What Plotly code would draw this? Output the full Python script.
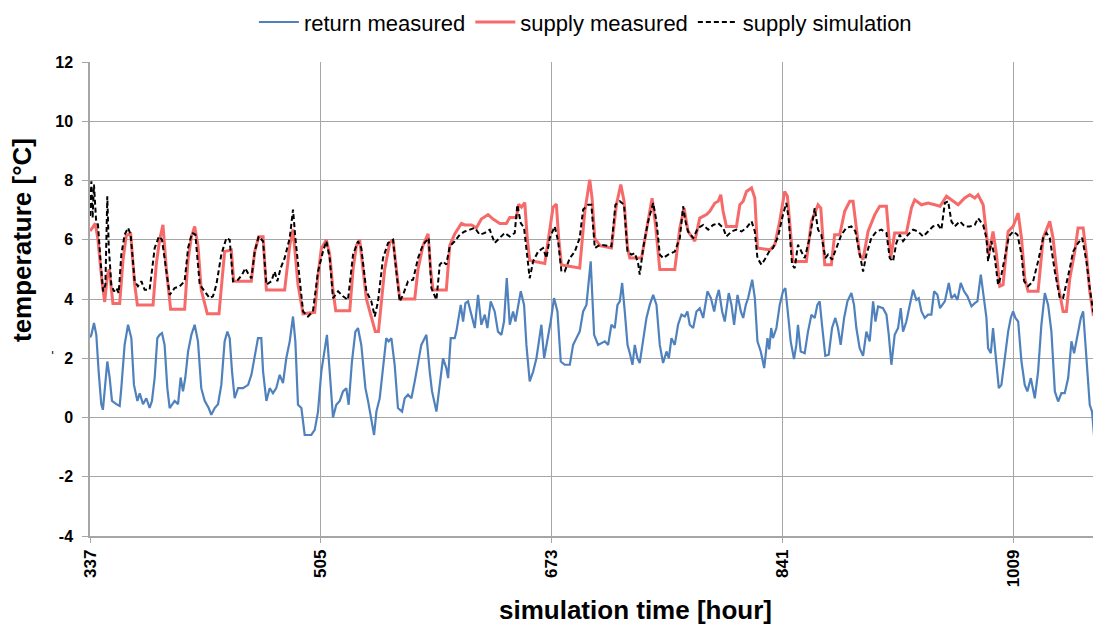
import plotly.graph_objects as go

# ---------------- data ----------------
# hours and temperatures [°C]
return_hours = [337, 338, 339.9, 341.6, 343.3, 345.2, 346.4, 348.2, 349.6, 351.3, 353, 356.2, 358.6, 359.8,
                362.2, 364.7, 367.1, 369, 371.5, 373.2, 375.6, 378, 380.4, 382.1, 384.1, 386, 387.7, 389.4,
                391.3, 393.3, 395, 398.6, 401.1, 403, 404.7, 406.4, 408.4, 410.8, 413.2, 415.6, 418, 420.5,
                423.4, 425.3, 427.8, 430.2, 432.6, 435, 437, 438.7, 440.4, 442.3, 444.8, 448.4, 452.1, 454.5,
                456.9, 459.3,
                461.7, 463, 465.4, 467.8, 470.2, 472.6, 475.1, 477.5, 479.9, 482.4, 484.8, 486.5, 488.4, 490.9,
                493.3, 498.1, 500.6, 503, 505.4, 507.8, 509.5, 511.5, 513.9, 516.3, 518.8, 521.2, 523.6, 525.3,
                527.7, 530.2, 532.1, 534.5, 537.5, 539.4, 541.8, 543.8, 545.5, 547.9, 550.3, 552.7, 554.4, 556.4,
                558.8, 561.2, 564.2, 566.1, 568.5, 571, 573.4, 575.8, 578.2, 580.7, 581.9,
                584.3, 586, 589.2, 591.6, 594, 596.4, 597.7, 599.6, 602.5, 603.7, 605.4, 606.9, 608.6, 610.3,
                612.2, 614.7, 617.1, 619.5, 621.9, 624.4, 626.3, 628.7, 631.6, 634, 636.5, 638.4, 640.4, 642.6,
                645, 646.7, 648.6, 650.6, 653, 654.7, 657.1, 659.6, 662, 664.4, 665.6, 667.6, 670, 672.4, 674.8,
                677.3, 679.7, 682.6, 686.3, 688.7, 691.1, 693.5, 696, 698.4, 701.5, 704, 706.9,
                709.3, 711.8, 714.2, 716.6, 719, 721, 722.7, 724.4, 726.3, 728.3, 730, 731.9, 733.6, 735.5,
                737.2, 739.7, 742.1, 744.5, 747, 749.4, 751.8, 754.2, 756.7, 758.4, 760.3, 762.7, 765.1, 767.6,
                770, 771.9, 773.6, 776.1, 778.5, 780.9, 783.4, 786.5, 789, 791.4, 793.1, 794.8, 797.2, 799.1,
                802, 804, 805.9, 808.4, 810.8, 812.5, 814.4, 816.1, 819.1, 821, 822.9, 825.3, 827.8, 830.2,
                831.5, 832.9, 834.2, 836.7, 839.1, 841.5, 843.2, 845.2, 847.1, 849.5, 851.2, 852.4, 854.4, 857.3,
                859.7, 862.2, 864.6, 866.5, 868.2, 869.9, 872.3, 874.8, 877.2, 879.6, 881.5, 883.5, 886, 888.4,
                891.3, 893.2, 894.9, 897.3, 899.8, 902.2, 904.6, 907.1, 908.8, 910.7, 914.3, 916.8, 918.5, 920.4,
                922.8, 925.3, 927.2, 928.9, 931.3, 933.8, 936.2, 938.6, 940.3, 942.3, 944.7, 947.1, 949.5, 951.5,
                953.9, 955.8,
                959.3, 962.2, 964.1, 966.5, 968.5, 970.9, 973.3, 975.8, 978.7, 981.1, 983.0, 985.5, 987.9, 989.6,
                990.8, 992.8, 994.4, 996.9, 998.6, 1000.5, 1002.9, 1005.4, 1007.3, 1009, 1010.7, 1012.7, 1015.1,
                1017.5, 1019.4, 1021.9, 1024.8, 1027.2, 1029.6, 1032.1, 1034.5, 1036.9, 1039.4, 1041.8, 1044.2,
                1046.6, 1049.1, 1051.5, 1053.4, 1055.9, 1058.3, 1060, 1062.4, 1064.8, 1066.5, 1068, 1070.9, 1073]
return_temp = [2.7, 2.79, 3.19, 2.79, 1.55, 0.45, 0.26, 1.35, 1.89, 1.35, 0.56, 0.45, 0.39, 0.99,
               2.45, 3.13, 2.68, 1.1, 0.56, 0.82, 0.45, 0.65, 0.32, 0.56, 1.35, 2.68, 2.79, 2.85,
               2.45, 0.99, 0.32, 0.56, 0.45, 1.35, 0.88, 1.35, 2.23, 2.79, 3.13, 2.57, 0.99, 0.56,
               0.32, 0.09, 0.32, 0.45, 1.1, 2.57, 2.9, 2.68, 1.55, 0.65, 0.99, 0.99, 1.1, 1.44,
               2.0, 2.68,
               2.68, 1.55, 0.56, 0.99, 0.82, 0.99, 1.44, 1.16, 2.0, 2.57, 3.41, 2.57, 0.43, 0.32,
               -0.59, -0.59, -0.42, 0.2, 1.55, 2.23, 2.79, 1.55, 0.0, 0.43, 0.56, 0.88, 0.99, 0.43,
               1.89, 2.9, 3.02, 2.45, 0.99, 0.56, 0.0, -0.59, 0.2, 0.65, 1.67, 2.68, 2.57, 2.68,
               1.78, 0.32, 0.2, 0.65, 0.77, 0.65, 1.22, 1.89, 2.45, 2.68, 2.79,
               1.55, 0.88, 0.2, 1.1, 2.0, 1.67, 1.33, 2.68, 2.68, 2.9, 3.36, 3.8, 3.24, 3.86,
               3.92, 3.47, 3.02, 4.14, 3.13, 3.47, 3.02, 3.92, 3.58, 2.9, 2.79, 3.24, 4.71, 3.13,
               3.58, 3.24, 3.8, 4.26, 3.8, 2.45, 1.22, 1.55, 2.0, 2.68, 3.13, 2.0, 2.57, 3.24, 4.03,
               3.58, 1.89, 1.78, 1.78, 2.45, 2.68, 2.9, 3.58, 3.8, 5.27, 2.79, 2.45,
               2.51, 2.57, 2.45, 3.13, 3.02, 3.8, 3.92, 4.54, 3.58, 2.45, 2.17, 1.78, 2.45, 2.0,
               1.84, 2.57, 3.36, 3.8, 4.14, 3.8, 2.45, 1.84, 2.23, 2.0, 2.68, 2.45, 3.13, 3.47,
               3.41, 3.58, 3.13, 3.02, 3.58, 3.69, 3.36, 4.26, 4.03, 3.58, 4.03, 4.31, 3.58, 3.24,
               4.2, 3.8, 3.13, 4.14, 3.58, 3.36, 3.8, 4.03, 4.65, 4.03, 2.57, 2.23, 1.67, 2.68,
               2.3, 3.02, 2.68, 3.02, 3.8, 4.26, 4.37, 3.47, 2.57, 1.97, 2.45, 3.13, 2.23, 2.17,
               2.9, 3.47, 3.36, 3.8, 3.92, 3.13, 2.08, 2.12, 3.02, 3.36, 3.02, 2.45, 3.36, 3.92,
               4.2, 3.8, 3.02, 2.34, 2.08, 2.9, 2.57, 3.92, 3.24, 3.75, 3.69, 3.47, 2.79, 1.78,
               2.79, 3.02, 3.69, 2.9, 3.24, 3.8, 4.31, 3.97, 4.03, 3.58, 3.36, 3.47, 3.47, 4.26,
               4.14, 3.69,
               3.92, 4.54, 4.03, 4.14, 3.97, 4.54, 4.26, 4.09, 3.75, 3.86, 3.92, 4.82, 4.03, 3.36,
               2.34, 2.17, 3.02, 1.78, 0.99, 1.1, 2.0, 2.9, 3.36, 3.58, 3.36, 3.24, 1.89,
               1.1, 0.88, 1.33, 0.65, 1.55, 3.13, 4.2, 3.8, 2.9, 0.88, 0.54, 0.82,
               0.82, 1.33, 2.57, 2.17, 2.79, 3.36, 3.58, 2.0, 0.43, 0.2, -0.64, -0.64, 0.2]

supply_hours = [337, 338, 340.9, 342.8, 345.7, 347.7, 349.6, 351, 353.7, 358.6, 361, 363.4, 366.6, 369.5,
                371.5, 382.9, 385.3, 387.7, 390.1, 392.6, 395.7, 405.9, 408.3, 410.8, 413.2, 415.6, 418,
                422.4, 430.9, 433.1, 435, 439.9, 441.6, 454.4, 456.9, 459.8,
                463, 465.4, 478.7, 482.4, 484.8, 488.4, 492.1, 500.6, 503, 505.4, 509.1, 511.5, 513.9, 515.9,
                526.1, 528.5, 530.9, 533.3, 536.5, 538.2, 544.7, 547, 551.5, 555.2, 557.6, 560, 562.5, 573.4,
                575.8, 579.4, 583.1,
                585, 586.7, 596.4, 598.9, 602.5, 607.4, 609.8, 614.7, 618.3, 621.9, 626.8, 630.4, 635.3, 640.1,
                642.6, 647.4, 649.1, 651.1, 653.5, 655.4, 657.1, 668.1, 674.1, 676.5, 678.2, 680.2, 693.5,
                697.2, 700.8, 702.5, 704.5, 708.3,
                716.6, 720.2, 723.4, 725.8, 728.3, 730, 738.5, 743.3, 746.2, 748.7, 751.8, 762.7, 766.4, 769.5,
                772.4, 777.3, 780.9, 785.8, 788.2, 791.9, 794.3, 796.2, 797.9, 800.3, 807.6, 810.1, 812.5,
                814.9, 818.6, 821, 822.9, 832.1,
                835.5, 839.1, 842.7, 844.7, 846.4, 848.8, 858.5, 862.2, 867, 869, 871.9, 876.7, 879.1, 882.8,
                886.4, 890.1, 892.5, 894.9, 897.3, 899.8, 903.4, 908.3, 911.9, 916.8, 919.9, 922.8, 931.3, 935,
                937.4, 942.3, 947.1, 952, 955.8,
                960.5, 963.9, 969, 973.8, 977.5, 981.1, 983.5, 987.2, 989.6, 991.3, 994.4, 996.9, 999.3,
                1001.7, 1005.4, 1009, 1012.7, 1015.1, 1017.5, 1019.9, 1027.2, 1030.9, 1035.7, 1038.1, 1041.8,
                1045.4, 1047.8, 1050.3, 1053.9, 1056.3, 1060, 1062.4, 1064.8, 1067.3, 1070.9, 1073]
supply_temp = [6.3, 6.35, 6.55, 6.0, 4.6, 3.9, 4.8, 5.0, 3.85, 3.85, 5.3, 6.15, 6.2, 4.5,
               3.8, 3.8, 5.2, 6.0, 6.5, 5.0, 3.65, 3.65, 5.3, 6.1, 6.45, 5.8, 4.3,
               3.5, 3.5, 4.8, 5.6, 5.65, 4.6, 4.6, 5.6, 6.1,
               6.1, 4.3, 4.3, 5.8, 6.35, 4.5, 3.5, 3.55, 4.8, 5.7, 6.0, 5.5, 4.3, 3.6,
               3.6, 5.0, 5.8, 6.0, 4.8, 4.0, 2.9, 2.9, 5.0, 5.9, 6.0, 5.0, 4.0, 4.0,
               5.0, 5.8, 6.2,
               5.0, 4.3, 4.3, 5.8, 6.2, 6.55, 6.5, 6.5, 6.4, 6.7, 6.85, 6.7, 6.55, 6.55,
               6.75, 6.75, 7.2, 7.1, 7.25, 6.0, 5.3, 5.2, 7.1, 7.2, 6.05, 5.15, 5.05,
               6.95, 8.03, 7.4, 6.05, 5.8,
               5.72, 7.18, 7.86, 7.3, 5.72, 5.38, 5.38, 6.73, 7.4, 6.5, 5.0, 5.0, 6.4, 7.07,
               6.28, 5.95, 6.73, 6.85, 6.96, 7.24, 7.3, 7.52, 6.96, 6.45, 6.45, 7.18, 7.3,
               7.63, 7.75, 7.41, 5.72, 5.66,
               5.83, 6.62, 7.63, 7.47, 6.62, 5.27, 5.27, 6.62, 7.18, 7.07, 5.16, 5.16, 6.17, 6.17,
               6.96, 7.3, 7.3, 6.4, 5.5, 5.33, 6.28, 6.85, 7.13, 7.13, 5.38, 6.23, 6.23, 7.07,
               7.35, 7.18, 7.24, 7.18, 7.13,
               7.47, 7.35, 7.18, 7.41, 7.52, 7.41, 7.52, 7.18, 6.06, 5.5, 6.28, 5.5, 4.43,
               4.48, 6.28, 6.45, 6.9, 6.06, 4.7, 4.26, 4.26, 6.06, 6.62, 6.06, 4.48,
               3.58, 3.58, 4.7, 5.6, 6.4, 6.4, 5.5, 4.26, 3.47, 3.36, 3.7]

sim_hours = [337, 338, 338.9, 339.9, 341.4, 342.8, 344.7, 346.5, 348.2, 349.6, 350.6, 352.5, 354.5, 356.2,
             357.9, 359.8, 362.2, 364.7, 366.6, 369.5, 371.9, 374.4, 376.8, 380.4, 384.1, 387.2, 389.4,
             392.6, 395, 398.6, 402.3, 405.9, 408.4, 411.3, 413.7, 416.9, 420.5, 424.1, 426.5, 429, 432.6,
             436.3, 438.7, 441.1, 444.8, 447.7, 450.1, 452.5, 454.5, 456.9, 459.8,
             463, 465.4, 469, 471.4, 473.4, 475.8, 478.7, 482.4, 484.8, 486.5, 489.6, 492.1, 495.7, 499.3,
             503, 506.6, 509.1, 511.5, 513.9, 517.6, 521.2, 524.8, 528.5, 532.1, 534.5, 538.2, 541.8, 544.3,
             546.7, 550.3, 554, 557.6, 560, 562.5, 564.9, 568.5, 572.2, 575.8, 579.4, 583.6,
             585.5, 589.2, 591.6, 594, 596.4, 598.9, 602.5, 606.2, 609.8, 613.4, 617.1, 620.7, 624.4, 628,
             631.6, 635.3, 638.9, 642.6, 646.2, 648.1, 650.6, 653, 655.4, 657.1, 659.6, 663.2, 666.8, 669.3,
             671.7, 675.3, 677.8, 680.2, 682.6, 686.3, 689.9, 693.5, 696, 699.6, 702, 704.5, 708.3,
             716.6, 719.5, 722.7, 725.8, 728.3, 731.2, 733.6, 736, 737.2, 739.7, 743.3, 747, 749.4, 751.8,
             754.2, 757.9, 762.7, 766.4, 768.8, 770.5, 772.4, 776.1, 779.7, 783.4, 787, 790.6, 794.3, 797.9,
             800.3, 804, 807.6, 811.3, 814.9, 818.6, 821, 822.9, 825.8, 828.2, 832.1,
             834.2, 837.9, 841.5, 843.9, 845.6, 848.1, 850, 852.4, 854.9, 857.3, 860.9, 864.6, 867, 869.4,
             872.3, 874.3, 877.2, 880.4, 884, 887.6, 891.3, 894.2, 897.3, 899.8, 902.2, 905.8, 909.5, 913.1,
             916.8, 919.2, 921.6, 924, 926.5, 928.9, 932.5, 936.2, 939.8, 943.5, 947.1, 950.7, 954.4,
             956.8, 959.3, 961.7, 964.1, 966.5, 970.2, 973.8, 977.5, 981.1, 983.5, 987.2, 989.6, 990.8,
             993.2, 995.7, 998.1, 1000.5, 1002.9, 1005.9, 1009, 1012.2, 1015.1, 1017, 1019.9, 1023.6, 1027.2,
             1030.9, 1033.3, 1035.7, 1039.4, 1043, 1045.4, 1047.8, 1050.3, 1052.7, 1056.3, 1059.3, 1062.4,
             1064.8, 1067.3, 1069.7, 1073]
sim_temp = [6.8, 7.97, 6.73, 7.86, 6.68, 6.5, 5.27, 4.26, 4.48, 7.47, 5.83, 4.48, 4.26, 4.37,
            4.2, 5.5, 6.17, 6.4, 6.17, 4.6, 4.43, 4.6, 4.31, 4.31, 5.72, 6.11, 6.0,
            4.93, 4.14, 4.37, 4.43, 4.6, 5.72, 6.23, 6.17, 4.48, 4.26, 4.03, 4.09, 4.48, 5.5,
            6.06, 6.0, 4.6, 4.65, 4.82, 5.04, 4.82, 4.7, 5.6, 6.11,
            5.95, 4.48, 4.6, 4.93, 4.6, 5.04, 5.38, 6.06, 7.02, 6.06, 4.6, 3.58, 3.41, 3.58,
            4.93, 5.6, 5.95, 5.38, 4.03, 4.26, 4.09, 3.97, 5.5, 5.95, 5.72, 4.26, 3.92, 3.41,
            3.92, 5.38, 5.89, 6.0, 4.93, 3.92, 4.14, 4.6, 4.65, 5.38, 5.83, 6.06,
            4.37, 3.97, 5.16, 5.27, 5.16, 5.78, 5.95, 6.17, 6.28, 6.34, 6.4, 6.17, 6.23, 6.34,
            5.89, 6.06, 6.23, 6.11, 6.23, 7.18, 6.56, 6.4, 5.5, 4.7, 5.27, 5.6, 5.72, 5.38,
            6.06, 6.45, 5.95, 4.93, 4.93, 5.38, 5.6, 6.06, 7.02, 7.18, 7.18, 5.72, 5.83,
            5.78, 7.18, 7.3, 7.18, 5.6, 5.5, 5.55, 5.21, 4.82, 5.72, 6.62, 7.24, 6.62, 5.5,
            5.38, 5.5, 5.6, 6.06, 7.13, 6.62, 6.28, 6.06, 6.4, 6.5, 6.34, 6.5, 6.56, 6.4,
            6.11, 6.28, 6.34, 6.28, 6.4, 6.62, 6.28, 5.38, 5.16, 5.33, 5.66,
            5.72, 6.11, 6.85, 7.24, 6.73, 5.16, 5.04, 5.83, 5.6, 5.38, 6.06, 7.07, 6.34, 6.17,
            5.38, 5.5, 5.33, 5.72, 6.17, 6.4, 6.45, 6.28, 5.5, 4.93, 5.5, 6.06, 6.28, 6.34,
            6.23, 5.38, 5.27, 5.89, 6.17, 5.95, 6.17, 6.34, 6.28, 6.11, 6.28, 6.45, 6.5,
            6.34, 7.24, 7.3, 6.62, 6.45, 6.62, 6.45, 6.45, 6.5, 6.73, 6.5, 6.06, 5.27,
            5.95, 5.38, 4.48, 4.82, 5.38, 6.11, 6.28, 6.17, 5.5, 4.6, 4.43, 4.6, 5.27,
            6.06, 6.23, 6.06, 4.93, 4.03, 4.03, 4.48, 5.04, 5.6, 5.89, 6.06, 5.27,
            4.37, 3.58, 3.47, 3.92]

x_tick_values = [337, 505, 673, 841, 1009]
x_tick_labels = ["337", "505", "673", "841", "1009"]
y_tick_values = [-4, -2, 0, 2, 4, 6, 8, 10, 12]
y_tick_labels = ["-4", "-2", "0", "2", "4", "6", "8", "10", "12"]

# ---------------- figure ----------------
FONT = "Liberation Sans, Arial, sans-serif"
GRID = "#A6A6A6"

fig = go.Figure()
fig.add_trace(go.Scatter(x=return_hours, y=return_temp, mode="lines", name="return measured",
                         line=dict(color="#4F81BD", width=2.2)))
fig.add_trace(go.Scatter(x=supply_hours, y=supply_temp, mode="lines", name="supply measured",
                         line=dict(color="#F76A6A", width=3)))
fig.add_trace(go.Scatter(x=sim_hours, y=sim_temp, mode="lines", name="supply simulation",
                         line=dict(color="#000000", width=2, dash="5px,3px")))

# the page body adds an 8 px offset, so the figure is sized 8 px smaller than the window
fig.update_layout(
    width=1093, height=620,
    margin=dict(l=82, r=0, t=54, b=92, autoexpand=False),
    paper_bgcolor="white", plot_bgcolor="white",
    font=dict(family=FONT, color="black"),
    showlegend=True,
    legend=dict(orientation="h", x=0.49, xanchor="center", y=1.084, yanchor="middle",
                font=dict(family=FONT, size=22, color="black"),
                itemwidth=40, traceorder="normal", bgcolor="rgba(0,0,0,0)"),
    annotations=[
        dict(text="-", xref="paper", yref="paper", x=-0.046, y=0.388,
             showarrow=False, textangle=-90, font=dict(family=FONT, size=12, color="black")),
        dict(text="<b>simulation time [hour]</b>", xref="paper", yref="paper", x=0.540, y=-0.156,
             xanchor="center", yanchor="middle", showarrow=False,
             font=dict(family=FONT, size=26, color="black")),
        dict(text="<b>temperature [°C]</b>", xref="paper", yref="paper", x=-0.068, y=0.625,
             xanchor="center", yanchor="middle", showarrow=False, textangle=-90,
             font=dict(family=FONT, size=26, color="black")),
    ],
)

fig.update_xaxes(
    range=[337, 1073], tickmode="array", tickvals=x_tick_values, ticktext=x_tick_labels,
    tickangle=-90, tickfont=dict(family=FONT, size=17, color="black", weight="bold"),
    showgrid=True, gridcolor=GRID, gridwidth=1,
    showline=True, linecolor=GRID, linewidth=1.5,
    ticks="outside", ticklen=5, tickcolor=GRID,
    zeroline=False, automargin=False,
)
fig.update_yaxes(
    range=[-4, 12], tickmode="array", tickvals=y_tick_values, ticktext=y_tick_labels,
    tickfont=dict(family=FONT, size=16, color="black", weight="bold"),
    showgrid=True, gridcolor=GRID, gridwidth=1,
    showline=True, linecolor=GRID, linewidth=1.5,
    ticks="outside", ticklen=6, tickcolor=GRID, ticklabelstandoff=6,
    zeroline=False, automargin=False,
)

fig.write_html("out.html")
